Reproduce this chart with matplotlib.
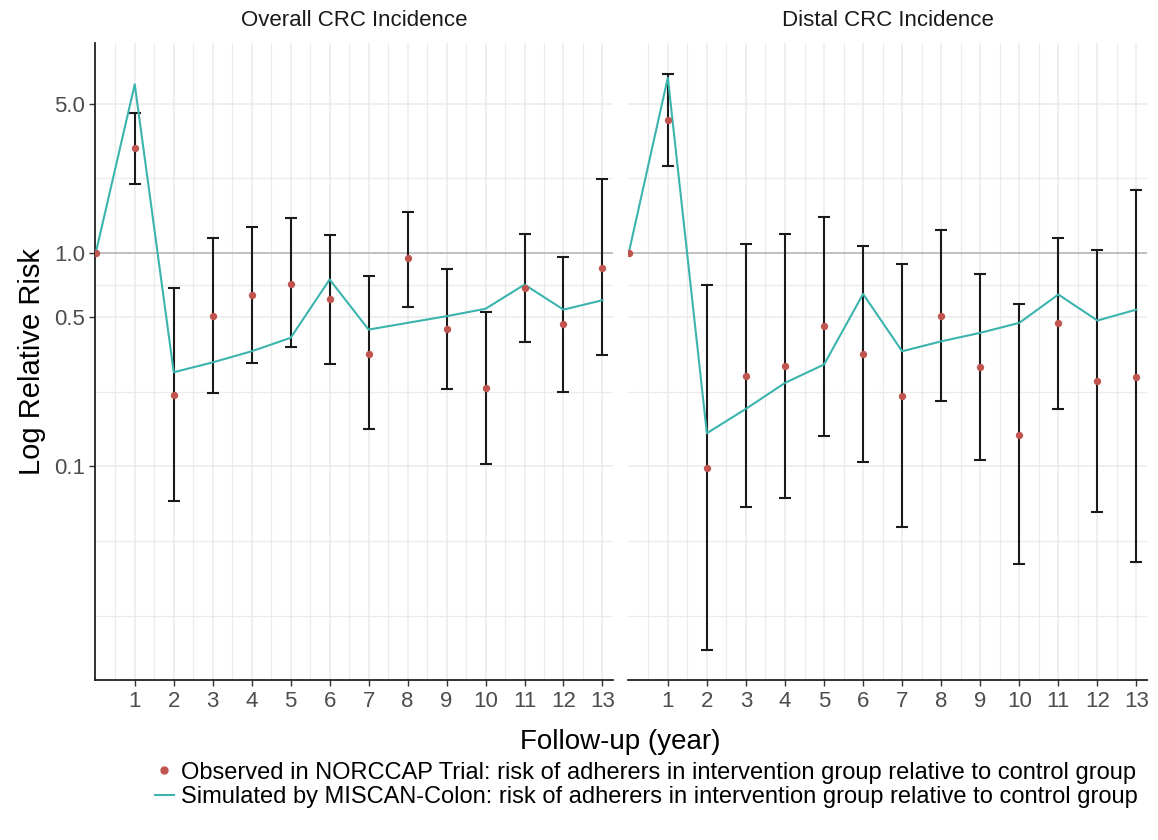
import numpy as np
import matplotlib
matplotlib.use("Agg")
import matplotlib.pyplot as plt
from matplotlib.lines import Line2D

plt.rcParams['font.family'] = ['Liberation Sans', 'DejaVu Sans']

years = list(range(0, 14))
panel_titles = ["Overall CRC Incidence", "Distal CRC Incidence"]

# observed relative risk (NORCCAP) with 95% CI
overall_obs = [1.0, 3.09, 0.217, 0.508, 0.633, 0.718, 0.609, 0.337, 0.944, 0.442, 0.234, 0.685, 0.463, 0.853]
overall_lo = [np.nan, 2.09, 0.0686, 0.221, 0.305, 0.361, 0.302, 0.149, 0.56, 0.231, 0.103, 0.383, 0.223, 0.334]
overall_hi = [np.nan, 4.50, 0.685, 1.17, 1.32, 1.45, 1.21, 0.777, 1.55, 0.841, 0.527, 1.23, 0.954, 2.22]
# simulated by MISCAN-Colon
overall_sim = [1.0, 6.15, 0.276, 0.307, 0.346, 0.40, 0.75, 0.437, 0.47, 0.505, 0.547, 0.71, 0.542, 0.60]

distal_obs = [1.0, 4.18, 0.098, 0.266, 0.296, 0.456, 0.337, 0.213, 0.508, 0.292, 0.141, 0.47, 0.25, 0.261]
distal_lo = [np.nan, 2.56, 0.0138, 0.0647, 0.0711, 0.139, 0.105, 0.052, 0.203, 0.107, 0.035, 0.185, 0.0609, 0.0356]
distal_hi = [np.nan, 6.85, 0.708, 1.10, 1.23, 1.47, 1.08, 0.882, 1.28, 0.80, 0.577, 1.17, 1.03, 1.96]
distal_sim = [1.0, 6.61, 0.143, 0.186, 0.246, 0.300, 0.642, 0.346, 0.385, 0.422, 0.47, 0.638, 0.482, 0.542]

y_breaks = [0.1, 0.5, 1.0, 5.0]
y_labels = ["0.1", "0.5", "1.0", "5.0"]

obs_col = "#c0544e"
sim_col = "#3cb4ae"
grid_col = "#ebebeb"

W, H = 1158, 840
fig = plt.figure(figsize=(W / 100, H / 100), dpi=100)

def px_axes(left, right, top, bottom):
    return fig.add_axes([left / W, 1 - bottom / H, (right - left) / W, (bottom - top) / H])

ax1 = px_axes(95, 613, 43, 680)
ax2 = px_axes(628, 1147, 43, 680)

# minor breaks ggplot-style: midpoints in log space, one step extended below
lb = np.log10(y_breaks)
ext = np.concatenate([[lb[0] - (lb[1] - lb[0])], lb])
minor_y = list(10 ** ext[:1]) + list(10 ** ((ext[:-1] + ext[1:]) / 2))

datasets = [
    (ax1, overall_obs, overall_lo, overall_hi, overall_sim),
    (ax2, distal_obs, distal_lo, distal_hi, distal_sim),
]

for i, (ax, obs, lo, hi, sim) in enumerate(datasets):
    ax.set_yscale('log')
    ax.set_xlim(-0.02, 13.27)
    ax.set_ylim(0.01, 9.6)
    for v in minor_y:
        ax.axhline(v, color=grid_col, lw=0.9, zorder=0)
    for v in y_breaks:
        ax.axhline(v, color=grid_col, lw=1.1, zorder=0)
    for xv in np.arange(0.5, 13.5, 0.5):
        ax.axvline(xv, color=grid_col, lw=1.1 if xv % 1 == 0 else 0.9, zorder=0)
    ax.axhline(1.0, color="#b3b3b3", lw=1.1, zorder=1)

    obs = np.array(obs)
    lo = np.array(lo)
    hi = np.array(hi)
    ax.errorbar(years, obs, yerr=[obs - lo, hi - obs], fmt='none', ecolor='#1a1a1a',
                elinewidth=1.5, capsize=4, capthick=1.5, zorder=2)
    ax.plot(years, sim, color=sim_col, lw=1.5, zorder=3)
    ax.scatter(years, obs, s=28, color=obs_col, zorder=4, linewidths=0)

    ax.set_xticks(range(1, 14))
    ax.set_xticklabels([str(t) for t in range(1, 14)], fontsize=16, color='#4d4d4d')
    ax.yaxis.set_minor_locator(matplotlib.ticker.NullLocator())
    ax.set_yticks(y_breaks)
    ax.set_yticklabels(y_labels, fontsize=16, color='#4d4d4d')
    ax.tick_params(axis='both', colors='#333333', labelcolor='#4d4d4d', length=4, width=1)
    ax.tick_params(axis='x', pad=4)
    ax.tick_params(axis='y', pad=3)
    for s in ['top', 'right']:
        ax.spines[s].set_visible(False)
    ax.spines['bottom'].set_linewidth(1.3)
    ax.spines['bottom'].set_color('#222222')
    ax.spines['left'].set_linewidth(1.3)
    ax.spines['left'].set_color('#222222')
    ax.set_title(panel_titles[i], fontsize=16, color='#1a1a1a', pad=12)
    ax.set_facecolor('white')

ax2.spines['left'].set_visible(False)
ax2.tick_params(axis='y', left=False, labelleft=False)

ax1.set_ylabel("Log Relative Risk", fontsize=21, color='black', labelpad=6)
fig.text(620 / W, 1 - 742 / H, "Follow-up (year)", fontsize=20, ha='center', va='center')

handles = [
    Line2D([], [], marker='o', color=obs_col, linestyle='none', markersize=5),
    Line2D([], [], color=sim_col, lw=1.5),
]
labels = [
    "Observed in NORCCAP Trial: risk of adherers in intervention group relative to control group",
    "Simulated by MISCAN-Colon: risk of adherers in intervention group relative to control group",
]
fig.legend(handles, labels, loc='center', bbox_to_anchor=(646 / W, 1 - 785 / H), frameon=False,
           fontsize=17, handlelength=0.8, handletextpad=0.3, labelspacing=0.12)

fig.savefig("out.png", dpi=100, facecolor='white')
